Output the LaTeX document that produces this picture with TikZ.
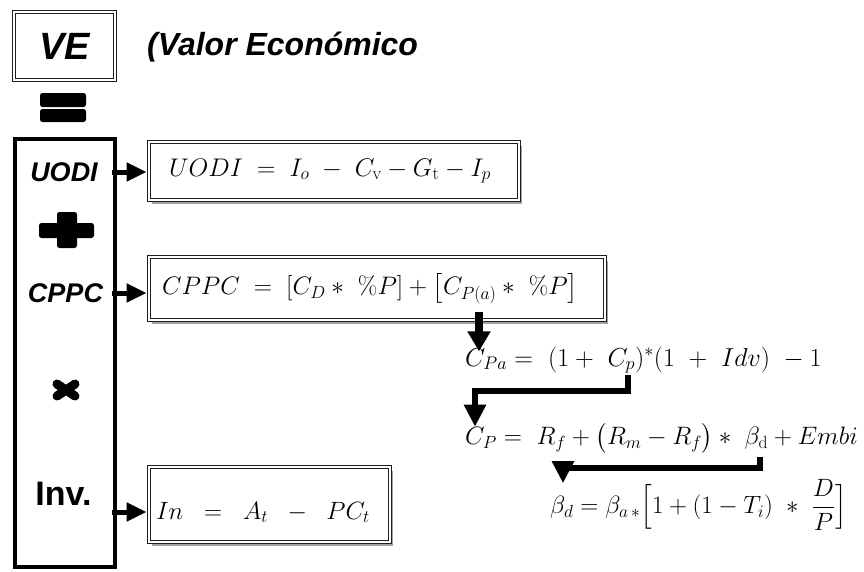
\RequirePackage{fix-cm}
\documentclass[tikz,border=0pt]{standalone}
\usepackage{amsmath}
\usepackage{fontspec}
\setsansfont{Liberation Sans}
\usetikzlibrary{arrows.meta,positioning,shadows}
\definecolor{veedge}{RGB}{30,30,30}
\definecolor{veshade}{RGB}{100,100,100}
\tikzset{
  fbox/.style={
    draw=veedge, double, double distance=1.6pt, line width=0.8pt,
    fill=white, inner ysep=0pt, align=left,
    font=\fontsize{25}{30}\selectfont
  },
  shd/.style={drop shadow={opacity=0.6, shadow xshift=3pt,
    shadow yshift=-4pt, fill=veshade}},
  lbl/.style={font=\fontsize{27}{30}\selectfont\sffamily\bfseries\itshape},
  fml/.style={inner sep=0pt, anchor=west, font=\fontsize{25}{28}\selectfont},
  harr/.style={-{Triangle[length=20pt,width=18pt]}, line width=5pt},
  darr/.style={-{Triangle[length=20pt,width=22pt]}, line width=8pt},
  earr/.style={-{Triangle[length=22pt,width=21pt]}, line width=6pt},
  sym/.style={fill=black, rounded corners=2.5pt}
}
\begin{document}
\begin{tikzpicture}[x=1pt,y=-1pt]
  \useasboundingbox (0,0) rectangle (864,571);
  % heading
  \node[fbox, font=\fontsize{38}{40}\selectfont\sffamily\bfseries\itshape,
    minimum width=101pt, minimum height=68pt, inner sep=0pt] (ve) at (64.5,46) {VE};
  \node[lbl, font=\fontsize{32}{36}\selectfont\sffamily\bfseries\itshape,
    anchor=west, inner sep=0pt] (title) at (147,47) {(Valor Económico};
  \fill[sym] (40,93) rectangle (86,107);
  \fill[sym] (40,109) rectangle (86,122);
  % left column
  \node[draw, line width=4.5pt, minimum width=100pt, minimum height=428pt,
    inner sep=0pt] (col) at (65,353) {};
  \node[lbl] (uodilbl) at (64,172) {UODI};
  \node[lbl] (cppclbl) at (65.5,293) {CPPC};
  \node[lbl, font=\fontsize{34}{36}\selectfont\sffamily\bfseries] (invlbl) at (63.5,494) {Inv.};
  \fill[sym] (39,223) rectangle (94,238);
  \fill[sym] (57,212) rectangle (77,248);
  \draw[line width=9pt, line cap=round] (57,384) -- (75,396) (57,396) -- (75,384);
  % formula boxes
  \node[fbox, shd, font=\fontsize{25.5}{30}\selectfont, minimum height=58pt,
    text width=330pt, inner xsep=20pt] (uodibox)
    at (334,171) {$UODI \;=\; I_o \;-\; C_{\mathrm{v}} - G_{\mathrm{t}} - I_p$};
  \node[fbox, shd, font=\fontsize{25.3}{30}\selectfont, minimum height=63pt,
    text width=430pt, inner xsep=13pt] (cppcbox)
    at (377,288.5) {$CPPC \;=\; [C_D *\ \%P] + \big[C_{P(a)} *\ \%P\big]$};
  \node[fbox, shd, minimum height=75pt, text width=227pt, inner xsep=7pt,
    text height=31pt, text depth=2pt] (invbox)
    at (269.5,504.5) {$In \;\;=\;\; A_t \;\;-\;\; PC_t$};
  \node[fml, font=\fontsize{26}{28}\selectfont] (cpa) at (465,360)
    {$C_{Pa} = \ (1+\ C_p)^{*}(1\ +\ Idv)\ -1$};
  \node[fml, font=\fontsize{25.2}{28}\selectfont] (cp) at (465,438)
    {$C_P = \ R_f + \big(R_m - R_f\big) *\ \beta_{\mathrm{d}} + Embi$};
  \node[fml] (beta) at (550,505)
    {$\beta_d = \beta_{a\,*}\Big[1 + (1 - T_i)\ *\ \dfrac{D}{P}\Big]$};
  % connectors
  \coordinate (invarr) at ([yshift=-7.5pt]invbox.west);
  \draw[harr, shorten <=-5pt, shorten >=2pt] (col.east |- uodilbl) -- (uodibox.west |- uodilbl);
  \draw[harr, shorten <=-5pt, shorten >=2pt] (col.east |- cppclbl) -- (cppcbox.west |- cppclbl);
  \draw[harr, shorten <=-5pt, shorten >=2pt] (invarr -| col.east) -- (invarr);
  \coordinate (cppa) at (479,312);
  \coordinate (cpp) at (628,375);
  \coordinate (cpbend) at (475,391);
  \coordinate (bd) at (760,457);
  \coordinate (bdbend) at (563,468);
  \draw[darr, shorten >=-5pt] (cppa) -- (cppa |- cpa.north);
  \draw[earr, shorten >=-4pt] (cpp) |- (cpbend) -- (cpbend |- cp.north);
  \draw[earr, shorten >=-4pt] (bd) |- (bdbend) -- (bdbend |- beta.north);
\end{tikzpicture}
\end{document}
